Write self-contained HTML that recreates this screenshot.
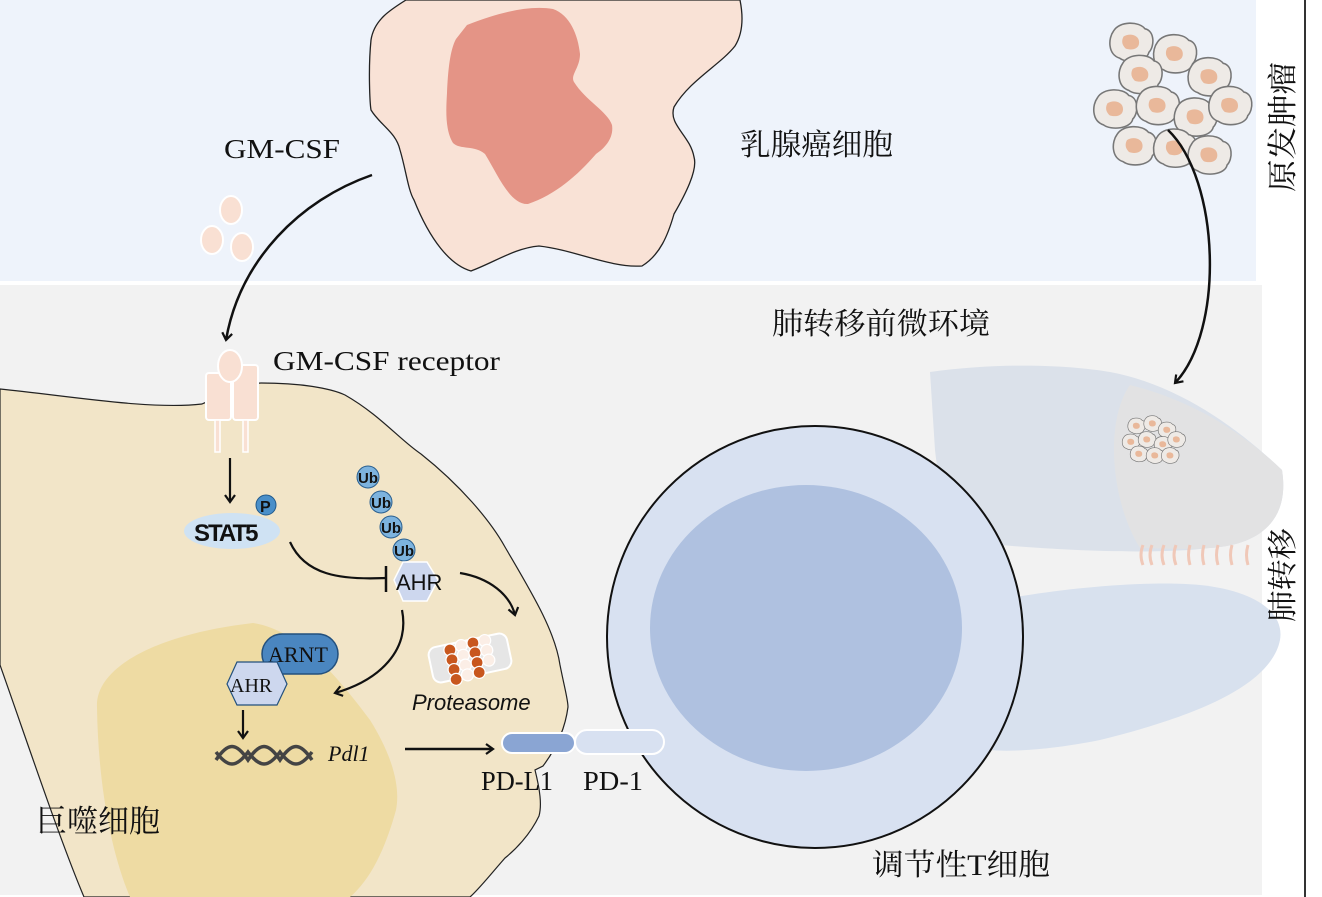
<!DOCTYPE html>
<html><head><meta charset="utf-8"><style>
html,body{margin:0;padding:0;background:#fff}
svg{display:block}
text{font-family:"Liberation Serif","Noto Serif CJK SC","Noto Sans CJK SC",serif;fill:#111}
.s{font-family:"Liberation Sans","Noto Sans CJK SC",sans-serif}
</style></head><body>
<svg width="1322" height="897" viewBox="0 0 1322 897" xmlns="http://www.w3.org/2000/svg">
<defs>
<marker id="ah" markerWidth="12" markerHeight="12" refX="8" refY="6" orient="auto" markerUnits="userSpaceOnUse">
<path d="M1,1 L8,6 L1,11" fill="none" stroke="#111" stroke-width="2.2"/>
</marker>
<g id="cc"><path d="M-9,-6 C-6,-11 4,-11 7,-7 C12,-6 12,2 9,5 C8,10 -2,11 -6,8 C-12,6 -12,-2 -9,-6Z" fill="#eeeae6" stroke="#777" stroke-width="0.8"/><path d="M-4,-3 C-1,-5 4,-4 4,0 C4,4 -1,4 -3,3 C-5,1 -5,-1 -4,-3Z" fill="#e9b89a"/></g>
</defs>
<rect x="0" y="0" width="1322" height="897" fill="#fff"/>
<rect x="0" y="0" width="1256" height="281" fill="#eef3fb"/>
<rect x="0" y="285" width="1262" height="610" fill="#f2f2f2"/>
<line x1="1305" y1="0" x2="1305" y2="897" stroke="#333" stroke-width="2"/>

<!-- cancer cell -->
<path d="M406,0 C390,10 374,20 371,40 C368,70 370,104 371,110 C380,125 396,132 400,150 C406,170 408,190 414,200 C430,240 450,265 471,271 C495,262 515,248 539,246 C575,250 610,268 642,266 C660,255 668,235 674,214 C685,195 698,170 694,157 C690,135 668,125 674,107 C690,80 720,65 735,46 C745,30 742,10 740,0 Z" fill="#f9e2d6" stroke="#222" stroke-width="1.3"/>
<path d="M467,25 C500,12 530,5 553,9 C570,15 578,35 580,54 C580,68 570,75 574,82 C585,100 608,112 612,125 C614,138 605,148 596,154 C578,175 555,195 528,204 C510,205 498,175 485,154 C475,145 460,150 453,143 C445,130 446,110 447,93 C448,70 450,50 456,39 Z" fill="#e49486"/>
<text x="740" y="155" font-size="30" textLength="153" lengthAdjust="spacingAndGlyphs">乳腺癌细胞</text>
<text x="224" y="158" font-size="27" textLength="116" lengthAdjust="spacingAndGlyphs">GM-CSF</text>

<!-- cytokine -->
<ellipse cx="231" cy="210" rx="11" ry="14" fill="#f9e0d3" stroke="#fff" stroke-width="2"/>
<ellipse cx="212" cy="240" rx="11" ry="14" fill="#f9e0d3" stroke="#fff" stroke-width="2"/>
<ellipse cx="242" cy="247" rx="11" ry="14" fill="#f9e0d3" stroke="#fff" stroke-width="2"/>
<path d="M372,175 C300,200 240,260 226,340" fill="none" stroke="#111" stroke-width="2.5" marker-end="url(#ah)"/>

<!-- primary tumor cluster -->
<g transform="translate(1175,100) scale(1.15)">
<use href="#cc" transform="translate(-38,-50) scale(1.7)"/><use href="#cc" transform="translate(0,-40) scale(1.7)"/><use href="#cc" transform="translate(30,-20) scale(1.7)"/>
<use href="#cc" transform="translate(-30,-22) scale(1.7)"/><use href="#cc" transform="translate(-52,8) scale(1.7)"/><use href="#cc" transform="translate(-15,5) scale(1.7)"/>
<use href="#cc" transform="translate(18,15) scale(1.7)"/><use href="#cc" transform="translate(48,5) scale(1.7)"/><use href="#cc" transform="translate(-35,40) scale(1.7)"/>
<use href="#cc" transform="translate(0,42) scale(1.7)"/><use href="#cc" transform="translate(30,48) scale(1.7)"/>
</g>
<path d="M1168,130 C1220,180 1225,330 1175,383" fill="none" stroke="#111" stroke-width="2.5" marker-end="url(#ah)"/>
<text transform="translate(1293,192) rotate(-90)" font-size="30" textLength="130" lengthAdjust="spacingAndGlyphs">原发肿瘤</text>

<!-- lungs -->
<path d="M930,372 C1000,362 1070,365 1110,372 C1180,385 1240,430 1282,470 C1290,520 1260,545 1210,548 C1150,555 1060,550 1000,545 C960,540 940,500 935,450 Z" fill="#dbe1ea"/>
<path d="M1130,385 C1190,400 1240,430 1282,470 C1290,520 1260,545 1210,548 C1180,550 1160,548 1140,548 C1110,500 1105,420 1130,385Z" fill="#e2e2e3"/>
<path d="M1000,600 C1060,588 1150,580 1200,585 C1250,590 1285,610 1280,640 C1270,690 1180,720 1100,740 C1050,750 1010,752 990,750 Z" fill="#d8e1ee"/>
<g stroke="#f0c8b8" stroke-width="3" fill="none">
<path d="M1143,545 q-4,10 0,20"/><path d="M1152,545 q-4,10 0,20"/><path d="M1164,545 q-4,10 0,20"/><path d="M1176,545 q-4,10 0,20"/><path d="M1190,545 q-3,10 0,20"/><path d="M1204,545 q-3,10 0,20"/><path d="M1218,545 q-3,10 0,20"/><path d="M1232,545 q-3,10 0,20"/><path d="M1248,545 q-3,10 0,20"/>
</g>
<g transform="translate(1151,438) scale(0.8)">
<use href="#cc" transform="translate(-18,-15)"/><use href="#cc" transform="translate(2,-18)"/><use href="#cc" transform="translate(20,-10)"/>
<use href="#cc" transform="translate(-25,5)"/><use href="#cc" transform="translate(-5,2)"/><use href="#cc" transform="translate(15,8)"/><use href="#cc" transform="translate(32,2)"/>
<use href="#cc" transform="translate(-15,20)"/><use href="#cc" transform="translate(5,22)"/><use href="#cc" transform="translate(24,22)"/>
</g>
<text transform="translate(1293,622) rotate(-90)" font-size="30" textLength="94" lengthAdjust="spacingAndGlyphs">肺转移</text>
<text x="772" y="334" font-size="30" textLength="218" lengthAdjust="spacingAndGlyphs">肺转移前微环境</text>

<!-- T cell -->
<ellipse cx="815" cy="637" rx="208" ry="211" fill="#d8e1f1" stroke="#111" stroke-width="2"/>
<ellipse cx="806" cy="628" rx="156" ry="143" fill="#afc1e0"/>
<text x="872" y="875" font-size="30" textLength="178" lengthAdjust="spacingAndGlyphs">调节性T细胞</text>

<!-- macrophage -->
<path d="M0,389 C70,396 150,410 202,404 C230,392 250,383 261,383 C300,383 330,388 345,395 C380,415 400,440 421,454 C460,485 490,520 505,547 C530,590 555,630 560,665 C565,690 568,700 568,707 C565,730 555,750 543,766 L535,770 C540,790 542,805 539,816 C530,835 515,850 505,858 C490,875 480,888 470,897 L84,897 C60,840 30,750 0,665 Z" fill="#f2e5c8" stroke="#222" stroke-width="1.2"/>
<path d="M97,707 C95,670 150,635 253,623 C300,630 340,680 370,720 C395,760 400,790 396,810 C385,850 370,880 350,897 L130,897 C110,850 98,780 97,707Z" fill="#eedba3"/>
<text x="36" y="832" font-size="31" textLength="124" lengthAdjust="spacingAndGlyphs">巨噬细胞</text>

<!-- receptor -->
<rect x="206" y="373" width="25" height="47" rx="3" fill="#f9e0d3" stroke="#fff" stroke-width="2"/>
<rect x="233" y="365" width="25" height="55" rx="3" fill="#f9e0d3" stroke="#fff" stroke-width="2"/>
<ellipse cx="230" cy="366" rx="12" ry="16" fill="#f9e0d3" stroke="#fff" stroke-width="2"/>
<rect x="215" y="420" width="5" height="32" fill="#f9e0d3" stroke="#fff" stroke-width="1.5"/>
<rect x="243" y="420" width="5" height="32" fill="#f9e0d3" stroke="#fff" stroke-width="1.5"/>
<text x="273" y="370" font-size="27" textLength="227" lengthAdjust="spacingAndGlyphs">GM-CSF receptor</text>
<line x1="230" y1="458" x2="230" y2="502" stroke="#111" stroke-width="2.2" marker-end="url(#ah)"/>

<!-- STAT5 -->
<ellipse cx="232" cy="531" rx="48" ry="18" fill="#cfe2f3"/>
<text x="194" y="541" font-size="24" class="s" font-weight="bold" letter-spacing="-2">STAT5</text>
<circle cx="266" cy="505" r="10" fill="#4a8fc9" stroke="#215a8c" stroke-width="1"/>
<text x="260" y="512" font-size="16" class="s" font-weight="bold">P</text>
<path d="M290,542 C305,575 340,580 385,578" fill="none" stroke="#111" stroke-width="2.2"/>
<line x1="386" y1="566" x2="386" y2="592" stroke="#111" stroke-width="2.5"/>

<!-- Ub chain -->
<g font-size="15" class="s" font-weight="bold">
<circle cx="368" cy="477" r="11" fill="#7db3de" stroke="#2a5f8f"/><text x="358" y="483" class="s">Ub</text>
<circle cx="381" cy="502" r="11" fill="#7db3de" stroke="#2a5f8f"/><text x="371" y="508" class="s">Ub</text>
<circle cx="391" cy="527" r="11" fill="#7db3de" stroke="#2a5f8f"/><text x="381" y="533" class="s">Ub</text>
<circle cx="404" cy="550" r="11" fill="#7db3de" stroke="#2a5f8f"/><text x="394" y="556" class="s">Ub</text>
</g>
<polygon points="403,562 427,562 438,580 427,601 403,601 394,580" fill="#cdd7ee" stroke="#fff" stroke-width="1.5"/>
<text x="396" y="590" font-size="22" class="s">AHR</text>
<path d="M460,573 C490,578 510,595 515,615" fill="none" stroke="#111" stroke-width="2.2" marker-end="url(#ah)"/>
<path d="M402,610 C410,650 380,680 335,693" fill="none" stroke="#111" stroke-width="2.2" marker-end="url(#ah)"/>

<!-- proteasome -->
<g transform="translate(470,658) rotate(-12)">
<rect x="-40" y="-18" width="80" height="36" rx="8" fill="#e6e6e6" stroke="#fff" stroke-width="2"/>
<g stroke="#fff" stroke-width="1.2">
<circle cx="-18" cy="-12" r="6" fill="#c8571e"/><circle cx="-18" cy="-2" r="6" fill="#c8571e"/><circle cx="-18" cy="8" r="6" fill="#c8571e"/><circle cx="-18" cy="18" r="6" fill="#c8571e"/>
<circle cx="-6" cy="-14" r="6" fill="#fbeee6"/><circle cx="-6" cy="-4" r="6" fill="#fbeee6"/><circle cx="-6" cy="6" r="6" fill="#fbeee6"/><circle cx="-6" cy="16" r="6" fill="#fbeee6"/>
<circle cx="6" cy="-14" r="6" fill="#c8571e"/><circle cx="6" cy="-4" r="6" fill="#c8571e"/><circle cx="6" cy="6" r="6" fill="#c8571e"/><circle cx="6" cy="16" r="6" fill="#c8571e"/>
<circle cx="18" cy="-14" r="6" fill="#fbeee6"/><circle cx="18" cy="-4" r="6" fill="#fbeee6"/><circle cx="18" cy="6" r="6" fill="#fbeee6"/>
</g></g>
<text x="412" y="710" font-size="22" class="s" font-style="italic">Proteasome</text>

<!-- AHR/ARNT -->
<rect x="262" y="634" width="76" height="40" rx="20" fill="#4a86c0" stroke="#23507d" stroke-width="1.5"/>
<text x="268" y="662" font-size="22">ARNT</text>
<polygon points="237,662 277,662 287,684 277,705 237,705 227,684" fill="#cdd7ee" stroke="#23507d" stroke-width="1.2"/>
<text x="230" y="692" font-size="20">AHR</text>
<line x1="243" y1="710" x2="243" y2="738" stroke="#111" stroke-width="2.2" marker-end="url(#ah)"/>

<!-- DNA -->
<g stroke="#444" stroke-width="3.5" fill="none">
<path d="M216,760 C228,742 236,742 248,760 C260,742 268,742 280,760 C292,742 300,742 312,760"/>
<path d="M216,752 C228,768 236,768 248,752 C260,768 268,768 280,752 C292,768 300,768 312,752"/>
</g>
<text x="328" y="761" font-size="22" font-style="italic">Pdl1</text>
<line x1="405" y1="749" x2="493" y2="749" stroke="#111" stroke-width="2.5" marker-end="url(#ah)"/>

<!-- PD-L1 PD-1 -->
<rect x="575" y="730" width="89" height="24" rx="12" fill="#d8e1f1" stroke="#fff" stroke-width="2"/>
<rect x="502" y="733" width="73" height="20" rx="10" fill="#8aa5d3" stroke="#fff" stroke-width="2"/>
<text x="481" y="790" font-size="27" textLength="72" lengthAdjust="spacingAndGlyphs">PD-L1</text>
<text x="583" y="790" font-size="27" textLength="60" lengthAdjust="spacingAndGlyphs">PD-1</text>
</svg>
</body></html>
